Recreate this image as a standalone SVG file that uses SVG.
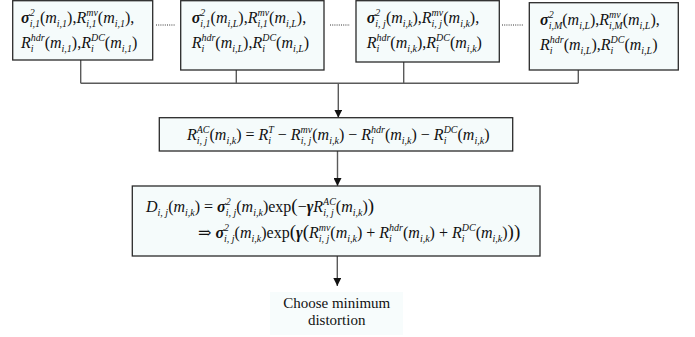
<svg xmlns="http://www.w3.org/2000/svg" width="695" height="337" viewBox="0 0 695 337">
<defs>
<style>
.box{fill:#f5fbfb;stroke:#2a2a2a;stroke-width:1.3}
.c{fill:none;stroke:#5a5a5a;stroke-width:1.4}
.dot{fill:none;stroke:#333;stroke-width:1;stroke-dasharray:1 1.2}
.t{font-family:"Liberation Serif","DejaVu Serif",serif;font-size:16px;fill:#111}
.i{font-style:italic}
.s{font-size:10px;font-style:italic}
.g{font-style:italic;font-weight:bold}
.b{font-size:19px}
.lbl{font-family:"Liberation Serif","DejaVu Serif",serif;font-size:15px;fill:#111;text-anchor:middle}
</style>
<marker id="ah" markerUnits="userSpaceOnUse" markerWidth="8" markerHeight="8" refX="8" refY="4" orient="auto">
<path d="M0,0 L8,4 L0,8 z" fill="#111"/>
</marker>
</defs>
<rect width="695" height="337" fill="#fff"/>

<g id="connectors">
<path class="c" d="M80.7,60 V83.3 M236.3,70 V83.3 M403.7,62 V83.3 M578.3,70 V83.3 M80.7,83.3 H578.3"/>
<path class="c" d="M338.3,83.3 V117.7" marker-end="url(#ah)"/>
<path class="c" d="M337.5,151 V186" marker-end="url(#ah)"/>
<path class="c" d="M337.3,256 V286" marker-end="url(#ah)"/>
</g>

<g id="dots">
<path class="dot" d="M156,25 H175 M330,25 H350 M502,25 H524"/>
</g>

<g id="node1">
<rect class="box" x="12.7" y="0.7" width="140" height="59.3"/>
<text class="t" x="21" y="23"><tspan class="g">σ</tspan><tspan class="s" dy="-7">2</tspan><tspan class="s" dx="-5" dy="11">i,1</tspan><tspan dy="-4">(</tspan><tspan class="i">m</tspan><tspan class="s" dy="4">i,1</tspan><tspan dy="-4">),</tspan><tspan class="i">R</tspan><tspan class="s" dy="4">i,1</tspan><tspan class="s" dx="-10.3" dy="-11">mv</tspan><tspan dy="7">(</tspan><tspan class="i">m</tspan><tspan class="s" dy="4">i,1</tspan><tspan dy="-4">),</tspan></text>
<text class="t" x="21" y="48"><tspan class="i">R</tspan><tspan class="s" dy="4">i</tspan><tspan class="s" dx="-2.8" dy="-11">hdr</tspan><tspan dy="7">(</tspan><tspan class="i">m</tspan><tspan class="s" dy="4">i,1</tspan><tspan dy="-4">),</tspan><tspan class="i">R</tspan><tspan class="s" dy="4">i</tspan><tspan class="s" dx="-2.8" dy="-11">DC</tspan><tspan dy="7">(</tspan><tspan class="i">m</tspan><tspan class="s" dy="4">i,1</tspan><tspan dy="-4">)</tspan></text>
</g>

<g id="node2">
<rect class="box" x="180.7" y="0.7" width="143.3" height="69.3"/>
<text class="t" x="191.7" y="23"><tspan class="g">σ</tspan><tspan class="s" dy="-7">2</tspan><tspan class="s" dx="-5" dy="11">i,1</tspan><tspan dy="-4">(</tspan><tspan class="i">m</tspan><tspan class="s" dy="4">i,L</tspan><tspan dy="-4">),</tspan><tspan class="i">R</tspan><tspan class="s" dy="4">i,1</tspan><tspan class="s" dx="-10.3" dy="-11">mv</tspan><tspan dy="7">(</tspan><tspan class="i">m</tspan><tspan class="s" dy="4">i,L</tspan><tspan dy="-4">),</tspan></text>
<text class="t" x="191.7" y="48"><tspan class="i">R</tspan><tspan class="s" dy="4">i</tspan><tspan class="s" dx="-2.8" dy="-11">hdr</tspan><tspan dy="7">(</tspan><tspan class="i">m</tspan><tspan class="s" dy="4">i,L</tspan><tspan dy="-4">),</tspan><tspan class="i">R</tspan><tspan class="s" dy="4">i</tspan><tspan class="s" dx="-2.8" dy="-11">DC</tspan><tspan dy="7">(</tspan><tspan class="i">m</tspan><tspan class="s" dy="4">i,L</tspan><tspan dy="-4">)</tspan></text>
</g>

<g id="node3">
<rect class="box" x="356" y="0.7" width="143.3" height="61.3"/>
<text class="t" x="366.7" y="23"><tspan class="g">σ</tspan><tspan class="s" dy="-7">2</tspan><tspan class="s" dx="-5" dy="11">i, j</tspan><tspan dy="-4">(</tspan><tspan class="i">m</tspan><tspan class="s" dy="4">i,k</tspan><tspan dy="-4">),</tspan><tspan class="i">R</tspan><tspan class="s" dy="4">i, j</tspan><tspan class="s" dx="-10.6" dy="-11">mv</tspan><tspan dy="7">(</tspan><tspan class="i">m</tspan><tspan class="s" dy="4">i,k</tspan><tspan dy="-4">),</tspan></text>
<text class="t" x="366.7" y="48"><tspan class="i">R</tspan><tspan class="s" dy="4">i</tspan><tspan class="s" dx="-2.8" dy="-11">hdr</tspan><tspan dy="7">(</tspan><tspan class="i">m</tspan><tspan class="s" dy="4">i,k</tspan><tspan dy="-4">),</tspan><tspan class="i">R</tspan><tspan class="s" dy="4">i</tspan><tspan class="s" dx="-2.8" dy="-11">DC</tspan><tspan dy="7">(</tspan><tspan class="i">m</tspan><tspan class="s" dy="4">i,k</tspan><tspan dy="-4">)</tspan></text>
</g>

<g id="node4">
<rect class="box" x="529.3" y="2.7" width="149" height="67.3"/>
<text class="t" x="540" y="25"><tspan class="g">σ</tspan><tspan class="s" dy="-7">2</tspan><tspan class="s" dx="-5" dy="11">i,M</tspan><tspan dy="-4">(</tspan><tspan class="i">m</tspan><tspan class="s" dy="4">i,L</tspan><tspan dy="-4">),</tspan><tspan class="i">R</tspan><tspan class="s" dy="-7">mv</tspan><tspan class="s" dx="-11.7" dy="11">i,M</tspan><tspan dy="-4">(</tspan><tspan class="i">m</tspan><tspan class="s" dy="4">i,L</tspan><tspan dy="-4">),</tspan></text>
<text class="t" x="540" y="50"><tspan class="i">R</tspan><tspan class="s" dy="4">i</tspan><tspan class="s" dx="-2.8" dy="-11">hdr</tspan><tspan dy="7">(</tspan><tspan class="i">m</tspan><tspan class="s" dy="4">i,L</tspan><tspan dy="-4">),</tspan><tspan class="i">R</tspan><tspan class="s" dy="4">i</tspan><tspan class="s" dx="-2.8" dy="-11">DC</tspan><tspan dy="7">(</tspan><tspan class="i">m</tspan><tspan class="s" dy="4">i,L</tspan><tspan dy="-4">)</tspan></text>
</g>

<g id="node5">
<rect class="box" x="159.3" y="117.7" width="353.4" height="33.3"/>
<text class="t" x="187" y="140"><tspan class="i">R</tspan><tspan class="s" dy="4">i, j</tspan><tspan class="s" dx="-10.6" dy="-11">AC</tspan><tspan dy="7">(</tspan><tspan class="i">m</tspan><tspan class="s" dy="4">i,k</tspan><tspan dy="-4">) = </tspan><tspan class="i">R</tspan><tspan class="s" dy="4">i</tspan><tspan class="s" dx="-2.8" dy="-11">T</tspan><tspan dy="7"> − </tspan><tspan class="i">R</tspan><tspan class="s" dy="4">i, j</tspan><tspan class="s" dx="-10.6" dy="-11">mv</tspan><tspan dy="7">(</tspan><tspan class="i">m</tspan><tspan class="s" dy="4">i,k</tspan><tspan dy="-4">) − </tspan><tspan class="i">R</tspan><tspan class="s" dy="4">i</tspan><tspan class="s" dx="-2.8" dy="-11">hdr</tspan><tspan dy="7">(</tspan><tspan class="i">m</tspan><tspan class="s" dy="4">i,k</tspan><tspan dy="-4">) − </tspan><tspan class="i">R</tspan><tspan class="s" dy="4">i</tspan><tspan class="s" dx="-2.8" dy="-11">DC</tspan><tspan dy="7">(</tspan><tspan class="i">m</tspan><tspan class="s" dy="4">i,k</tspan><tspan dy="-4">)</tspan></text>
</g>

<g id="node6">
<rect class="box" x="132.3" y="186" width="407.7" height="70"/>
<text class="t" x="146" y="212"><tspan class="i">D</tspan><tspan class="s" dy="4">i, j</tspan><tspan dy="-4">(</tspan><tspan class="i">m</tspan><tspan class="s" dy="4">i,k</tspan><tspan dy="-4">) = </tspan><tspan class="g">σ</tspan><tspan class="s" dy="-7">2</tspan><tspan class="s" dx="-5" dy="11">i, j</tspan><tspan dy="-4">(</tspan><tspan class="i">m</tspan><tspan class="s" dy="4">i,k</tspan><tspan dy="-4">)exp</tspan><tspan class="b">(</tspan><tspan>−</tspan><tspan class="g">γ</tspan><tspan class="i">R</tspan><tspan class="s" dy="4">i, j</tspan><tspan class="s" dx="-10.6" dy="-11">AC</tspan><tspan dy="7">(</tspan><tspan class="i">m</tspan><tspan class="s" dy="4">i,k</tspan><tspan dy="-4">)</tspan><tspan class="b">)</tspan></text>
<text class="t" x="198" y="238"><tspan>⇒ </tspan><tspan class="g">σ</tspan><tspan class="s" dy="-7">2</tspan><tspan class="s" dx="-5" dy="11">i, j</tspan><tspan dy="-4">(</tspan><tspan class="i">m</tspan><tspan class="s" dy="4">i,k</tspan><tspan dy="-4">)exp</tspan><tspan class="b">(</tspan><tspan class="g">γ</tspan><tspan class="b">(</tspan><tspan class="i">R</tspan><tspan class="s" dy="4">i, j</tspan><tspan class="s" dx="-10.6" dy="-11">mv</tspan><tspan dy="7">(</tspan><tspan class="i">m</tspan><tspan class="s" dy="4">i,k</tspan><tspan dy="-4">) + </tspan><tspan class="i">R</tspan><tspan class="s" dy="4">i</tspan><tspan class="s" dx="-2.8" dy="-11">hdr</tspan><tspan dy="7">(</tspan><tspan class="i">m</tspan><tspan class="s" dy="4">i,k</tspan><tspan dy="-4">) + </tspan><tspan class="i">R</tspan><tspan class="s" dy="4">i</tspan><tspan class="s" dx="-2.8" dy="-11">DC</tspan><tspan dy="7">(</tspan><tspan class="i">m</tspan><tspan class="s" dy="4">i,k</tspan><tspan dy="-4">)</tspan><tspan class="b">))</tspan></text>
</g>

<g id="node7">
<rect x="270" y="292" width="133" height="43" fill="#f7fcfc"/>
<text class="lbl" x="336.7" y="308">Choose minimum</text>
<text class="lbl" x="336.7" y="325">distortion</text>
</g>
</svg>
